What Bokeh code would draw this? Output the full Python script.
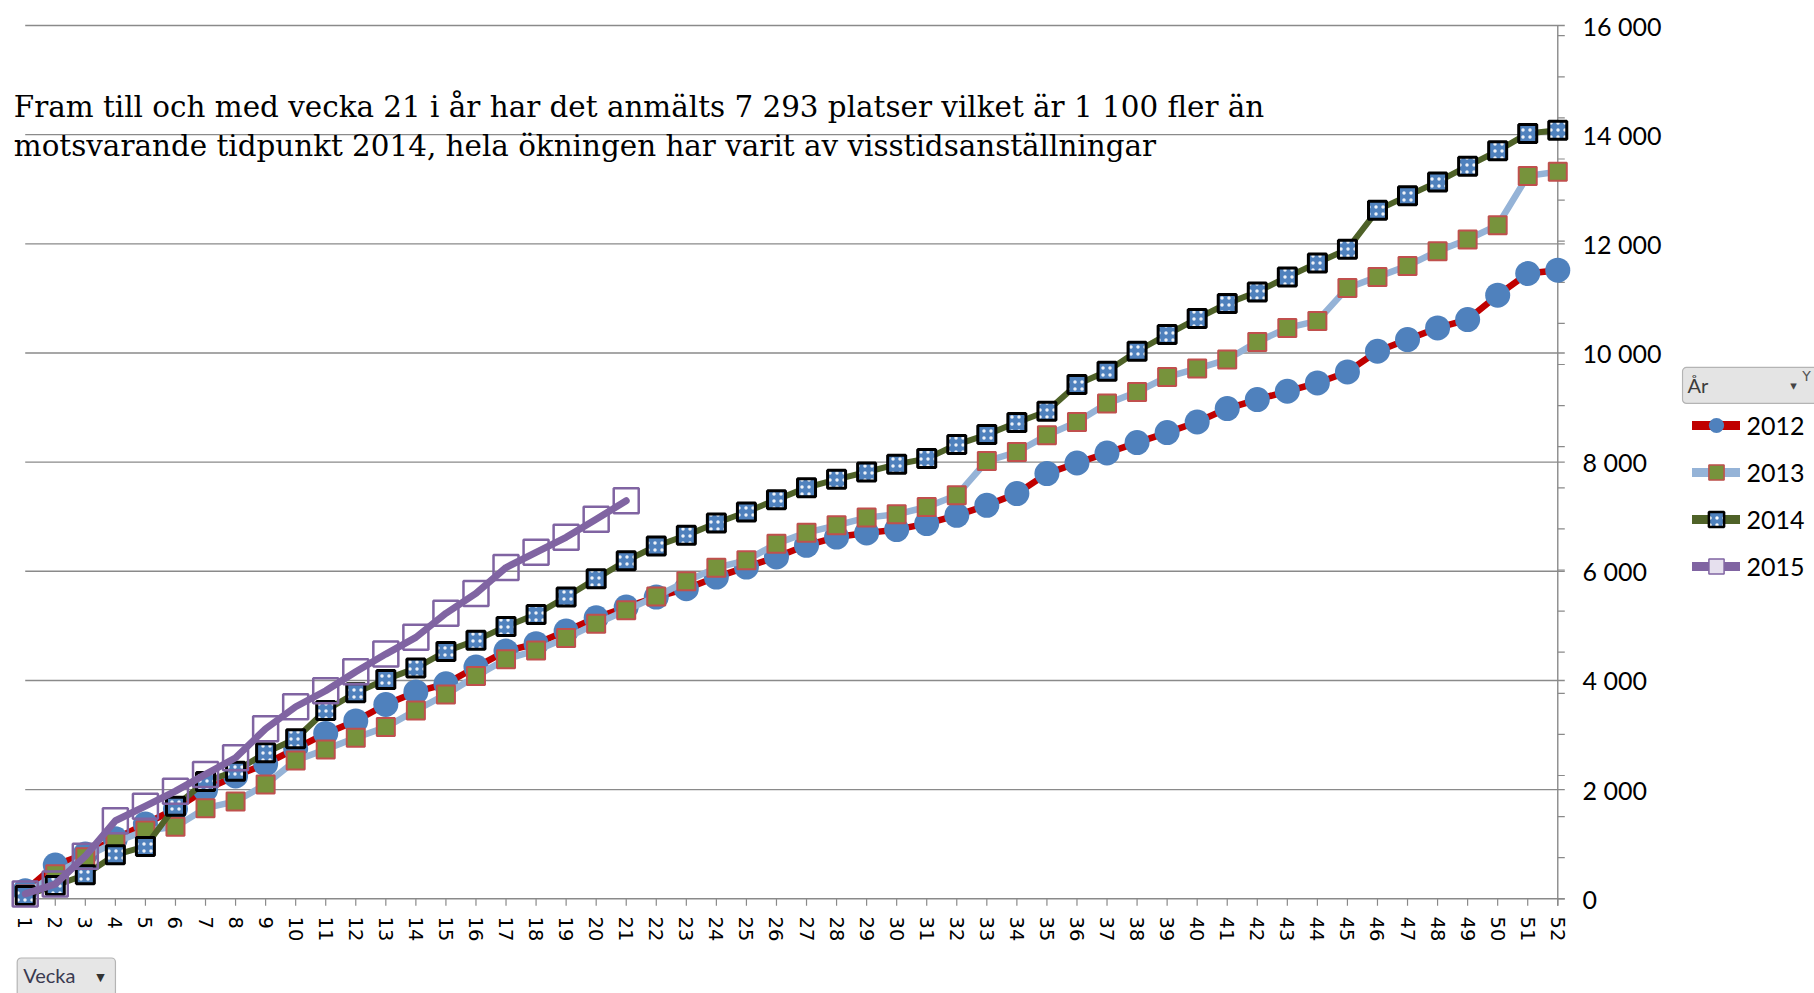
from bokeh.plotting import figure
from bokeh.layouts import row, column
from bokeh.models import (Range1d, LinearAxis, FixedTicker, Legend, LegendItem, Label)
from bokeh.embed import file_html
from bokeh.resources import INLINE

# ---------------- data ----------------
WEEKS = list(range(1, 53))
YEARS = ["2012", "2013", "2014", "2015"]
V2012 = [150, 620, 820, 1100, 1370, 1650, 2000, 2250, 2470, 2750,
         3030, 3260, 3560, 3790, 3940, 4245, 4540, 4674, 4905, 5150,
         5345, 5528, 5682, 5895, 6078, 6262, 6476, 6628, 6702, 6764,
         6874, 7026, 7209, 7424, 7790, 7985, 8168, 8358, 8542, 8736,
         8982, 9147, 9299, 9451, 9653, 10032, 10246, 10459, 10613, 11059,
         11456, 11517]
V2013 = [80, 450, 763, 1038, 1250, 1320, 1661, 1784, 2095, 2535,
         2737, 2951, 3146, 3451, 3745, 4080, 4390, 4551, 4777, 5041,
         5285, 5541, 5816, 6067, 6201, 6507, 6709, 6843, 6984, 7044,
         7178, 7393, 8021, 8186, 8492, 8736, 9073, 9286, 9561, 9715,
         9880, 10203, 10459, 10587, 11192, 11394, 11596, 11865, 12080, 12341,
         13245, 13319]
V2014 = [60, 244, 440, 806, 959, 1698, 2150, 2339, 2676, 2933,
         3451, 3776, 4020, 4227, 4533, 4735, 4991, 5211, 5529, 5866,
         6193, 6464, 6659, 6885, 7087, 7313, 7533, 7686, 7820, 7961,
         8065, 8322, 8505, 8725, 8932, 9421, 9665, 10032, 10338, 10631,
         10906, 11119, 11394, 11651, 11902, 12617, 12879, 13135, 13423, 13704,
         14022, 14083]
V2015 = [90, 270, 781, 1430, 1698, 1973, 2279, 2584, 3116, 3519,
         3812, 4161, 4484, 4790, 5230, 5596, 6070, 6348, 6623, 6953,
         7293]
Y_TICKS = [0, 2000, 4000, 6000, 8000, 10000, 12000, 14000, 16000]
Y_TICK_LABELS = ["0", "2 000", "4 000", "6 000", "8 000", "10 000",
                 "12 000", "14 000", "16 000"]
Y_MINOR_STEP = 753
TITLE_LINES = [
    "Fram till och med vecka 21 i år har det anmälts 7 293 platser vilket är 1 100 fler än",
    "motsvarande tidpunkt 2014, hela ökningen har varit av visstidsanställningar",
]
X_FIELD = "Vecka"
LEGEND_TITLE = "År"

# ---------------- styles ----------------
C_RED = "#c00000"
C_BLUE = "#4f81bd"
C_LBLUE = "#95b3d7"
C_GREEN = "#77933c"
C_ROSE = "#c0504d"
C_DGREEN = "#4f6228"
C_PURPLE = "#8064a2"
GRID = "#8a8a8a"

# ---------------- layout ----------------
TOTAL_W, TOTAL_H = 1814, 993
MAIN_W, MAIN_H = 1681, 955
LEG_W = TOTAL_W - MAIN_W
BOT_H = TOTAL_H - MAIN_H
ML, MR, MT, MB = 10, 109, 16, 39
FW = MAIN_W - ML - MR
FH = MAIN_H - MT - MB
X0, X1 = 0.51, 52.49
Y0, Y1 = -324, 16165


def dx(sx):
    return X0 + (sx - ML) / FW * (X1 - X0)


def dy(sy):
    return Y1 - (sy - MT) / FH * (Y1 - Y0)


TICK_DX = 7 / FW * (X1 - X0)
TICK_DY = 7 / FH * (Y1 - Y0)
XMAX = WEEKS[-1]
YMAX = Y_TICKS[-1]

p = figure(width=MAIN_W, height=MAIN_H, x_range=Range1d(X0, X1), y_range=Range1d(Y0, Y1),
           output_backend="svg", toolbar_location=None,
           x_axis_location=None, y_axis_location=None,
           min_border_left=ML, min_border_right=MR,
           min_border_top=MT, min_border_bottom=MB)
p.outline_line_color = None
p.background_fill_color = "white"
p.border_fill_color = "white"
p.grid.visible = False

xa = LinearAxis(ticker=FixedTicker(ticks=WEEKS, minor_ticks=[]),
                major_label_orientation="vertical",
                axis_line_color=None, major_tick_line_color=None,
                minor_tick_line_color=None, major_tick_in=0, major_tick_out=0,
                major_label_standoff=0,
                major_label_text_font="DejaVu Sans",
                major_label_text_font_size="19.5px",
                major_label_text_color="black")
p.add_layout(xa, "below")

ya = LinearAxis(ticker=FixedTicker(ticks=Y_TICKS, minor_ticks=[]),
                major_label_overrides={t: l for t, l in zip(Y_TICKS, Y_TICK_LABELS)},
                axis_line_color=None, major_tick_line_color=None,
                minor_tick_line_color=None, major_tick_in=0, major_tick_out=0,
                major_label_standoff=10,
                major_label_text_font="Lato",
                major_label_text_font_size="25px",
                major_label_text_color="black")
p.add_layout(ya, "right")

n = len(Y_TICKS)
p.segment(x0=[WEEKS[0]] * n, y0=Y_TICKS, x1=[XMAX + TICK_DX] * n, y1=Y_TICKS,
          line_color=GRID, line_width=1.4)
p.segment(x0=[XMAX], y0=[-TICK_DY], x1=[XMAX], y1=[YMAX], line_color=GRID, line_width=1.4)
minor = [k * Y_MINOR_STEP for k in range(int(YMAX // Y_MINOR_STEP) + 1)]
p.segment(x0=[XMAX] * len(minor), y0=minor, x1=[XMAX + TICK_DX] * len(minor), y1=minor,
          line_color=GRID, line_width=1.2)
p.segment(x0=WEEKS, y0=[0] * len(WEEKS), x1=WEEKS, y1=[-TICK_DY] * len(WEEKS),
          line_color=GRID, line_width=1.2)

# series
p.line(WEEKS, V2012, line_color=C_RED, line_width=6.5, line_join="round")
p.scatter(WEEKS, V2012, marker="circle", size=25, fill_color=C_BLUE, line_color=None)
p.line(WEEKS, V2013, line_color=C_LBLUE, line_width=6.5, line_join="round")
p.scatter(WEEKS, V2013, marker="square", size=18, fill_color=C_GREEN,
          line_color=C_ROSE, line_width=2)
p.line(WEEKS, V2014, line_color=C_DGREEN, line_width=6, line_join="round")
p.scatter(WEEKS, V2014, marker="square", size=18, fill_color=C_BLUE,
          line_color="black", line_width=3,
          hatch_pattern="dot", hatch_color="white", hatch_scale=7, hatch_weight=0.9,
          hatch_alpha=0.9)
p.line(WEEKS[:len(V2015)], V2015, line_color=C_PURPLE, line_width=7,
       line_join="round", line_cap="round")
p.scatter(WEEKS[:len(V2015)], V2015, marker="square", size=25, fill_color=None,
          line_color=C_PURPLE, line_width=2.5)

for i, line in enumerate(TITLE_LINES):
    p.add_layout(Label(x=dx(13.3), y=dy(106.3 + 39.4 * i), text=line,
                       text_font="DejaVu Serif", text_font_size="29.4px",
                       text_color="black", text_align="left",
                       text_baseline="alphabetic"))

# ---------------- legend panel (right strip) ----------------
leg = figure(width=LEG_W, height=MAIN_H, x_range=Range1d(0, LEG_W),
             y_range=Range1d(MAIN_H, 0), output_backend="svg", toolbar_location=None,
             x_axis_location=None, y_axis_location=None, min_border=0)
leg.outline_line_color = None
leg.grid.visible = False
leg.background_fill_color = "white"
leg.border_fill_color = "white"

# legend carriers: one point each, placed outside the visible area
OFF = [-1000]
l1 = leg.line(x=OFF, y=OFF, line_color=C_RED, line_width=9, line_cap="round")
m1 = leg.scatter(x=OFF, y=OFF, marker="circle", fill_color=C_BLUE, line_color=None)
l2 = leg.line(x=OFF, y=OFF, line_color=C_LBLUE, line_width=9, line_cap="round")
m2 = leg.scatter(x=OFF, y=OFF, marker="square", fill_color=C_GREEN, line_color=C_ROSE,
                 line_width=1.5)
l3 = leg.line(x=OFF, y=OFF, line_color=C_DGREEN, line_width=9, line_cap="round")
m3 = leg.scatter(x=OFF, y=OFF, marker="square", fill_color=C_BLUE, line_color="black",
                 line_width=2.5, hatch_pattern="dot", hatch_color="white",
                 hatch_scale=7, hatch_weight=0.9)
l4 = leg.line(x=OFF, y=OFF, line_color=C_PURPLE, line_width=9, line_cap="round")
m4 = leg.scatter(x=OFF, y=OFF, marker="square", fill_color="#e6e0ee",
                 line_color=C_PURPLE, line_width=1.5)

legend = Legend(items=[LegendItem(label=YEARS[0], renderers=[l1, m1]),
                       LegendItem(label=YEARS[1], renderers=[l2, m2]),
                       LegendItem(label=YEARS[2], renderers=[l3, m3]),
                       LegendItem(label=YEARS[3], renderers=[l4, m4])],
                location=(10.5, 330.6), orientation="vertical",
                background_fill_alpha=0, border_line_alpha=0,
                padding=0, margin=0, spacing=9,
                glyph_width=48, glyph_height=38, label_height=38,
                label_standoff=7, label_text_font="Lato",
                label_text_font_size="25px", label_text_color="black",
                label_text_baseline="middle")
leg.add_layout(legend)

leg.add_layout(Label(x=1682 - MAIN_W, y=391.5, text=LEGEND_TITLE,
                     text_font="Lato", text_font_size="20px", text_color="#3c3c3c",
                     text_align="left", text_baseline="middle",
                     background_fill_color="#e4e4e4", border_line_color="#b4b4b4",
                     border_line_width=1.2,
                     padding=dict(left=5, right=110, top=6, bottom=6),
                     border_radius=4))
leg.add_layout(Label(x=1793 - MAIN_W, y=392, text="▾", text_font="DejaVu Sans",
                     text_font_size="13px", text_color="#444444",
                     text_align="center", text_baseline="middle"))
leg.add_layout(Label(x=1806 - MAIN_W, y=381, text="Y", text_font="DejaVu Sans",
                     text_font_size="14px", text_color="#555555",
                     text_align="center", text_baseline="middle"))

# ---------------- bottom strip with the field button ----------------
bot = figure(width=TOTAL_W, height=BOT_H, x_range=Range1d(0, TOTAL_W),
             y_range=Range1d(BOT_H, 0), output_backend="svg", toolbar_location=None,
             x_axis_location=None, y_axis_location=None, min_border=0)
bot.outline_line_color = None
bot.grid.visible = False
bot.background_fill_color = "white"
bot.border_fill_color = "white"
bot.add_layout(Label(x=16.7, y=978 - MAIN_H, text=X_FIELD,
                     text_font="Lato", text_font_size="20px", text_color="#3a3a50",
                     text_align="left", text_baseline="middle",
                     background_fill_color="#e6e6e6", border_line_color="#b4b4b4",
                     border_line_width=1.2,
                     padding=dict(left=6, right=40, top=5, bottom=12),
                     border_radius=4))
bot.add_layout(Label(x=100, y=977 - MAIN_H, text="▼", text_font="DejaVu Sans",
                     text_font_size="11px", text_color="#333333",
                     text_align="center", text_baseline="middle"))

layout = column(row(p, leg, spacing=0), bot, spacing=0)
open("out.html", "w").write(file_html(layout, INLINE))
